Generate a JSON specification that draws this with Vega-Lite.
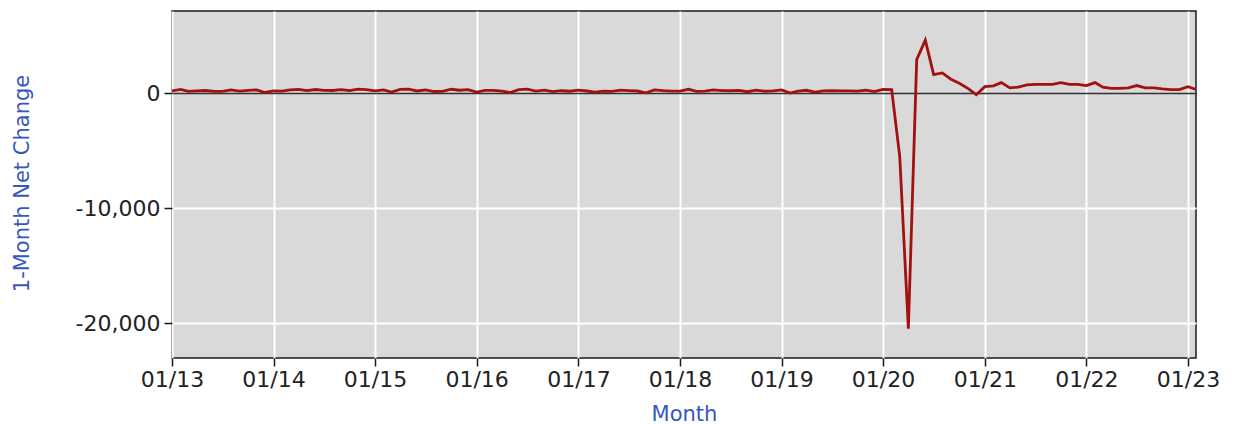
{
  "$schema": "https://vega.github.io/schema/vega-lite/v6.json",
  "autosize": "none",
  "width": 1024,
  "height": 347,
  "padding": {"left": 172, "top": 11, "right": 45, "bottom": 67},
  "background": "white",
  "config": {
    "view": {"fill": "#d9d9d9", "stroke": "#1a1a1a", "strokeWidth": 1.5},
    "axis": {
      "labelFont": "DejaVu Sans",
      "labelFontSize": 22,
      "labelColor": "#222222",
      "tickColor": "#1a1a1a",
      "tickSize": 8,
      "tickWidth": 1.5,
      "domain": false,
      "gridColor": "#ffffff",
      "gridWidth": 2,
      "titleFont": "DejaVu Sans",
      "titleFontWeight": "normal",
      "titleColor": "#3558c0"
    }
  },
  "data": {
    "values": [
      {"m": "2013-01-01", "v": 190}, {"m": "2013-02-01", "v": 311}, {"m": "2013-03-01", "v": 135}, {"m": "2013-04-01", "v": 192}, {"m": "2013-05-01", "v": 218}, {"m": "2013-06-01", "v": 146}, {"m": "2013-07-01", "v": 140}, {"m": "2013-08-01", "v": 268}, {"m": "2013-09-01", "v": 164}, {"m": "2013-10-01", "v": 237}, {"m": "2013-11-01", "v": 274}, {"m": "2013-12-01", "v": 45},
      {"m": "2014-01-01", "v": 187}, {"m": "2014-02-01", "v": 168}, {"m": "2014-03-01", "v": 272}, {"m": "2014-04-01", "v": 310}, {"m": "2014-05-01", "v": 213}, {"m": "2014-06-01", "v": 306}, {"m": "2014-07-01", "v": 232}, {"m": "2014-08-01", "v": 218}, {"m": "2014-09-01", "v": 286}, {"m": "2014-10-01", "v": 200}, {"m": "2014-11-01", "v": 331}, {"m": "2014-12-01", "v": 292},
      {"m": "2015-01-01", "v": 192}, {"m": "2015-02-01", "v": 267}, {"m": "2015-03-01", "v": 76}, {"m": "2015-04-01", "v": 312}, {"m": "2015-05-01", "v": 327}, {"m": "2015-06-01", "v": 177}, {"m": "2015-07-01", "v": 277}, {"m": "2015-08-01", "v": 130}, {"m": "2015-09-01", "v": 140}, {"m": "2015-10-01", "v": 327}, {"m": "2015-11-01", "v": 241}, {"m": "2015-12-01", "v": 289},
      {"m": "2016-01-01", "v": 76}, {"m": "2016-02-01", "v": 235}, {"m": "2016-03-01", "v": 235}, {"m": "2016-04-01", "v": 167}, {"m": "2016-05-01", "v": 38}, {"m": "2016-06-01", "v": 300}, {"m": "2016-07-01", "v": 335}, {"m": "2016-08-01", "v": 168}, {"m": "2016-09-01", "v": 257}, {"m": "2016-10-01", "v": 117}, {"m": "2016-11-01", "v": 198}, {"m": "2016-12-01", "v": 155},
      {"m": "2017-01-01", "v": 244}, {"m": "2017-02-01", "v": 175}, {"m": "2017-03-01", "v": 72}, {"m": "2017-04-01", "v": 169}, {"m": "2017-05-01", "v": 145}, {"m": "2017-06-01", "v": 247}, {"m": "2017-07-01", "v": 207}, {"m": "2017-08-01", "v": 174}, {"m": "2017-09-01", "v": 20}, {"m": "2017-10-01", "v": 274}, {"m": "2017-11-01", "v": 203}, {"m": "2017-12-01", "v": 171},
      {"m": "2018-01-01", "v": 168}, {"m": "2018-02-01", "v": 324}, {"m": "2018-03-01", "v": 149}, {"m": "2018-04-01", "v": 164}, {"m": "2018-05-01", "v": 267}, {"m": "2018-06-01", "v": 200}, {"m": "2018-07-01", "v": 195}, {"m": "2018-08-01", "v": 233}, {"m": "2018-09-01", "v": 111}, {"m": "2018-10-01", "v": 248}, {"m": "2018-11-01", "v": 152}, {"m": "2018-12-01", "v": 190},
      {"m": "2019-01-01", "v": 268}, {"m": "2019-02-01", "v": 1}, {"m": "2019-03-01", "v": 158}, {"m": "2019-04-01", "v": 238}, {"m": "2019-05-01", "v": 76}, {"m": "2019-06-01", "v": 186}, {"m": "2019-07-01", "v": 201}, {"m": "2019-08-01", "v": 180}, {"m": "2019-09-01", "v": 188}, {"m": "2019-10-01", "v": 166}, {"m": "2019-11-01", "v": 251}, {"m": "2019-12-01", "v": 124},
      {"m": "2020-01-01", "v": 315}, {"m": "2020-02-01", "v": 289}, {"m": "2020-03-01", "v": -5500}, {"m": "2020-04-01", "v": -20493}, {"m": "2020-05-01", "v": 2900}, {"m": "2020-06-01", "v": 4600}, {"m": "2020-07-01", "v": 1600}, {"m": "2020-08-01", "v": 1750}, {"m": "2020-09-01", "v": 1200}, {"m": "2020-10-01", "v": 850}, {"m": "2020-11-01", "v": 400}, {"m": "2020-12-01", "v": -150},
      {"m": "2021-01-01", "v": 550}, {"m": "2021-02-01", "v": 620}, {"m": "2021-03-01", "v": 900}, {"m": "2021-04-01", "v": 450}, {"m": "2021-05-01", "v": 520}, {"m": "2021-06-01", "v": 700}, {"m": "2021-07-01", "v": 750}, {"m": "2021-08-01", "v": 750}, {"m": "2021-09-01", "v": 750}, {"m": "2021-10-01", "v": 900}, {"m": "2021-11-01", "v": 750}, {"m": "2021-12-01", "v": 750},
      {"m": "2022-01-01", "v": 650}, {"m": "2022-02-01", "v": 900}, {"m": "2022-03-01", "v": 500}, {"m": "2022-04-01", "v": 400}, {"m": "2022-05-01", "v": 400}, {"m": "2022-06-01", "v": 450}, {"m": "2022-07-01", "v": 650}, {"m": "2022-08-01", "v": 450}, {"m": "2022-09-01", "v": 450}, {"m": "2022-10-01", "v": 350}, {"m": "2022-11-01", "v": 300}, {"m": "2022-12-01", "v": 300},
      {"m": "2023-01-01", "v": 550}, {"m": "2023-02-01", "v": 300}
    ]
  },
  "mark": {"type": "line", "color": "#a31010", "strokeWidth": 2.8, "clip": true, "strokeJoin": "miter"},
  "encoding": {
    "x": {
      "field": "m",
      "type": "temporal",
      "scale": {
        "type": "utc",
        "domain": [
          {"year": 2013, "month": 1, "date": 1, "utc": true},
          {"year": 2023, "month": 1, "date": 30, "utc": true}
        ]
      },
      "axis": {
        "title": "Month",
        "titleFontSize": 21,
        "titleY": 62,
        "titleBaseline": "alphabetic",
        "format": "%m/%y",
        "tickCount": {"interval": "year", "step": 1},
        "labelPadding": 3,
        "labelFlush": false,
        "labelOverlap": false
      }
    },
    "y": {
      "field": "v",
      "type": "quantitative",
      "scale": {"domain": [-23040, 7130], "nice": false, "zero": false},
      "axis": {
        "title": "1-Month Net Change",
        "titleFontSize": 21,
        "titleX": -150,
        "titleY": 172,
        "titleAngle": -90,
        "titleAlign": "center",
        "titleBaseline": "middle",
        "values": [-20000, -10000, 0],
        "labelExpr": "datum.value == 0 ? '0' : '-' + format(abs(datum.value), ',')",
        "labelPadding": 4,
        "gridColor": {"condition": {"test": "datum.value === 0", "value": "#333333"}, "value": "#ffffff"},
        "gridWidth": {"condition": {"test": "datum.value === 0", "value": 1.5}, "value": 2}
      }
    }
  }
}
